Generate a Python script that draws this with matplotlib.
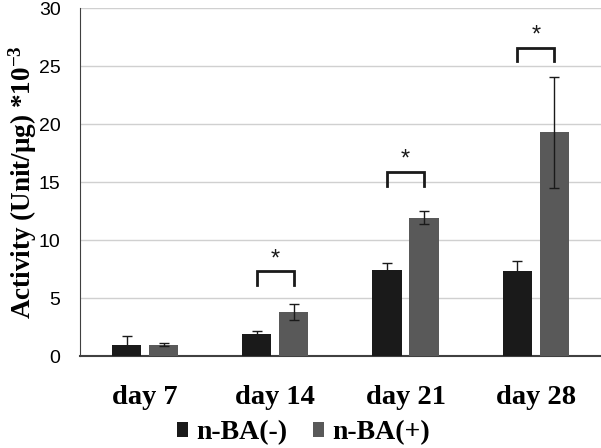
import matplotlib
matplotlib.use("Agg")
import matplotlib.pyplot as plt
import numpy as np

categories = ["day 7", "day 14", "day 21", "day 28"]
series_names = ["n-BA(-)", "n-BA(+)"]
minus_vals = [1.0, 1.95, 7.4, 7.3]
minus_err = [0.7, 0.25, 0.65, 0.9]
plus_vals = [1.0, 3.8, 11.95, 19.3]
plus_err = [0.15, 0.7, 0.6, 4.8]
sig_levels = [None, 7.3, 15.9, 26.6]
yticks = [0, 5, 10, 15, 20, 25, 30]

colors = ["#1a1a1a", "#595959"]
serif = ["Liberation Serif", "DejaVu Serif"]
sans = ["Liberation Sans", "DejaVu Sans"]

plt.rcParams["mathtext.fontset"] = "custom"
plt.rcParams["mathtext.rm"] = "Liberation Serif:bold"
plt.rcParams["mathtext.bf"] = "Liberation Serif:bold"
plt.rcParams["mathtext.it"] = "Liberation Serif:bold"

fig = plt.figure(figsize=(6.01, 4.48), dpi=100)
ax = fig.add_axes([0.133, 0.205, 0.867, 0.777])

x = np.arange(len(categories))
w = 0.225
off = 0.142
ekw = dict(ecolor="#1a1a1a", elinewidth=1.0, capsize=3.5, capthick=1.0)
ax.bar(x - off, minus_vals, w, color=colors[0], yerr=minus_err, error_kw=ekw,
       label=series_names[0], zorder=3)
ax.bar(x + off, plus_vals, w, color=colors[1], yerr=plus_err, error_kw=ekw,
       label=series_names[1], zorder=3)

for xi, lev in zip(x, sig_levels):
    if lev is None:
        continue
    x0, x1 = xi - off, xi + off
    ax.plot([x0, x0, x1, x1], [lev - 1.2, lev, lev, lev - 1.2], color="#1a1a1a",
            lw=2.0, solid_joinstyle="miter", zorder=4)
    ax.text(xi, lev + 0.1, "*", ha="center", va="bottom", fontsize=17,
            family=sans, color="#1a1a1a")

ax.set_xlim(-0.5, 3.5)
ax.set_ylim(0, 30)
ax.set_yticks(yticks)
ax.set_yticklabels([str(t) for t in yticks], family=sans, fontsize=14)
ax.set_xticks(x)
ax.set_xticklabels(categories, family=serif, fontsize=20.5, fontweight="bold")
ax.tick_params(axis="y", length=0, pad=14)
ax.tick_params(axis="x", length=0, pad=21)
ax.yaxis.grid(True, color="#d0d0d0", lw=1.0, zorder=0)
ax.set_axisbelow(True)
for s in ["top", "right"]:
    ax.spines[s].set_visible(False)
ax.spines["left"].set_color("#404040")
ax.spines["bottom"].set_color("#404040")
ax.spines["bottom"].set_linewidth(1.5)
ax.set_ylabel(r"Activity (Unit/μg) *10$^{-3}$", family=serif, fontsize=19.5,
              fontweight="bold", labelpad=0)

leg = fig.legend(loc="lower center", bbox_to_anchor=(0.505, -0.05), ncol=2, frameon=False,
                 prop={"family": serif, "size": 20, "weight": "bold"},
                 handlelength=0.42, handleheight=0.42, handletextpad=0.3, columnspacing=0.9)

fig.savefig("out.png", dpi=100)
